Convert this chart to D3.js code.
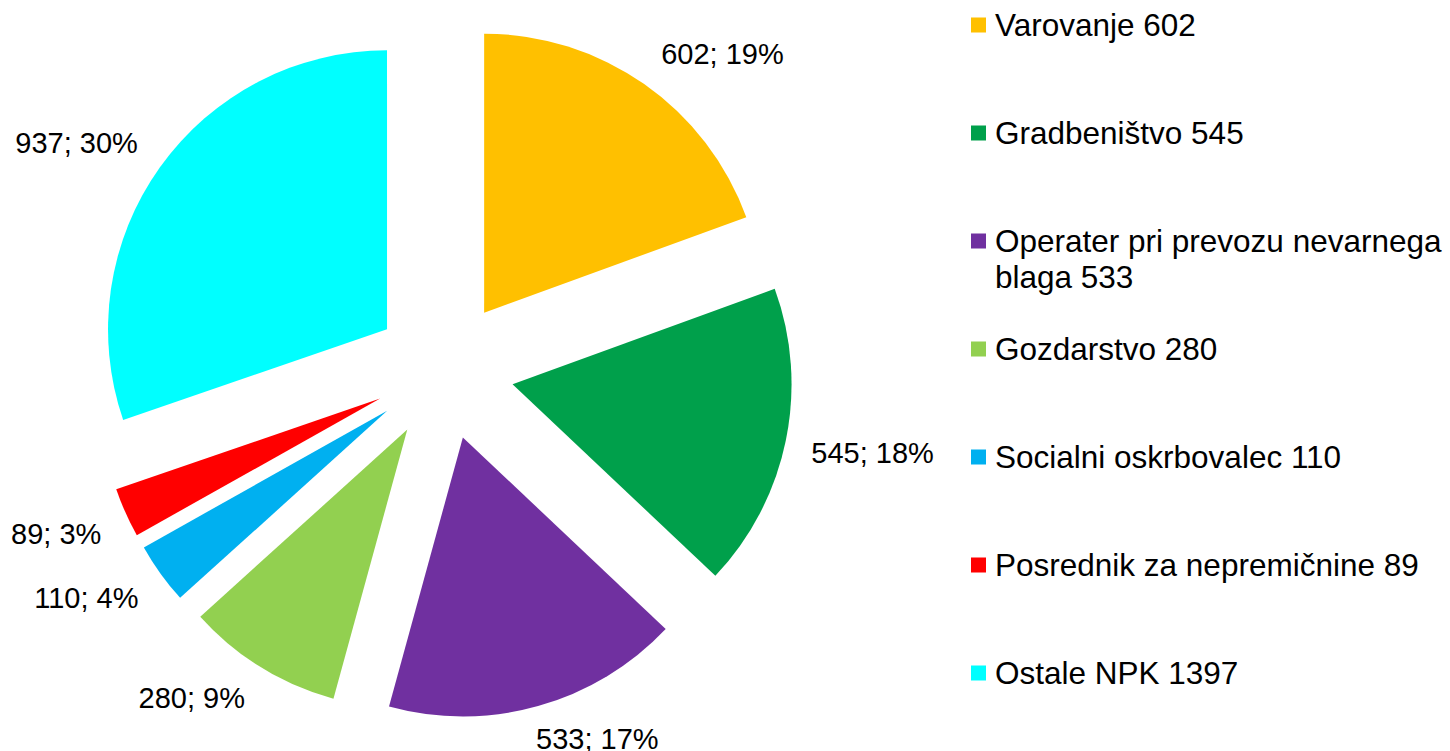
<!DOCTYPE html>
<html>
<head>
<meta charset="utf-8">
<script src="https://cdn.jsdelivr.net/npm/d3@7"></script>
<style>
  html, body { margin: 0; padding: 0; background: #ffffff; }
  svg { display: block; font-family: "Liberation Sans", Arial, sans-serif; }
</style>
</head>
<body>
<svg id="chart" width="1450" height="751"></svg>
<script>
// ---- data ----
const categories = ["Varovanje", "Gradbeništvo", "Operater pri prevozu nevarnega blaga", "Gozdarstvo", "Socialni oskrbovalec", "Posrednik za nepremičnine", "Ostale NPK"];
const values = [602, 545, 533, 280, 110, 89, 937];
const legendValues = [602, 545, 533, 280, 110, 89, 1397];
const colors = ["#FFC000", "#00A04B", "#7030A0", "#92D050", "#00B0F0", "#FF0000", "#00FFFF"];

// ---- layout ----
const W = 1450, H = 751;
const cx = 444, cy = 370;
const radius = 279;
const explode = 70;
const labelDist = 370;
const labelFont = 29;
const labelPad = 5;
const legendFont = 31.5;

const svg = d3.select("#chart");
const total = d3.sum(values);

const pie = d3.pie().sort(null).value(d => d).startAngle(0).endAngle(2 * Math.PI);
const arcs = pie(values);
const arc = d3.arc().innerRadius(0).outerRadius(radius);

const g = svg.append("g").attr("transform", `translate(${cx},${cy})`);

arcs.forEach((a, i) => {
  const mid = (a.startAngle + a.endAngle) / 2;
  const ox = explode * Math.sin(mid), oy = -explode * Math.cos(mid);
  g.append("path")
    .attr("d", arc(a))
    .attr("transform", `translate(${ox},${oy})`)
    .attr("fill", colors[i]);
});

// data labels
const clamp = v => Math.max(-1, Math.min(1, v));
arcs.forEach((a, i) => {
  const mid = (a.startAngle + a.endAngle) / 2;
  const s = Math.sin(mid), c = Math.cos(mid);
  const ax = labelDist * s, ay = -labelDist * c;
  const pct = Math.round(values[i] / total * 100);
  const t = g.append("text")
    .attr("font-size", labelFont)
    .attr("fill", "#000")
    .attr("text-anchor", "middle")
    .attr("dominant-baseline", "central")
    .text(`${values[i]}; ${pct}%`);
  const bb = t.node().getBBox();
  const w = bb.width + 2 * labelPad, h = labelFont * 0.86;
  const x = ax + (w / 2) * clamp(3 * s);
  const y = ay - (h / 2) * clamp(3 * c);
  t.attr("x", x).attr("y", y);
});

// legend
const legX = 971, legTextX = 995, legY0 = 25, legStep = 108, sq = 15, lineH = 36, maxW = 452;
categories.forEach((name, i) => {
  const yc = legY0 + i * legStep;
  svg.append("rect")
    .attr("x", legX).attr("y", yc - sq / 2)
    .attr("width", sq).attr("height", sq)
    .attr("fill", colors[i]);
  const words = `${name} ${legendValues[i]}`.split(" ");
  const t = svg.append("text")
    .attr("font-size", legendFont)
    .attr("fill", "#000")
    .attr("dominant-baseline", "central");
  let line = [];
  let lineNo = 0;
  let tspan = t.append("tspan").attr("x", legTextX).attr("y", yc);
  words.forEach(w => {
    line.push(w);
    tspan.text(line.join(" "));
    if (tspan.node().getComputedTextLength() > maxW && line.length > 1) {
      line.pop();
      tspan.text(line.join(" "));
      line = [w];
      lineNo++;
      tspan = t.append("tspan").attr("x", legTextX).attr("y", yc + lineNo * lineH).text(w);
    }
  });
});
</script>
</body>
</html>
